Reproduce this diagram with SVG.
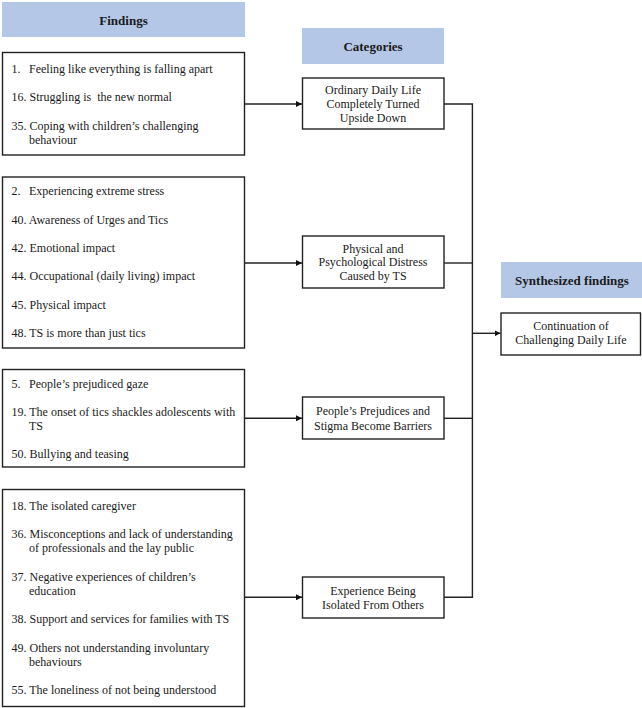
<svg xmlns="http://www.w3.org/2000/svg" width="642" height="708" viewBox="0 0 642 708">
<defs>
<style>
.hdr{fill:#b4c7e7}
.box{fill:#fff;stroke:#222;stroke-width:1.4}
.ln{fill:none;stroke:#222;stroke-width:1.4}
</style>
<marker id="arr" viewBox="0 0 10 10" refX="10" refY="5" markerWidth="6" markerHeight="6" markerUnits="userSpaceOnUse" orient="auto">
<path d="M0,0 L10,5 L0,10 Z" fill="#111"/>
</marker>
</defs>
<rect width="642" height="708" fill="#fff"/>

<g id="header-findings">
<rect class="hdr" x="2" y="2" width="243" height="35"/>
<text style="font-family:'Liberation Serif',serif;font-size:13px;font-weight:bold;text-anchor:middle" fill="#1a1a1a" x="123.5" y="25">Findings</text>
</g>
<g id="header-categories">
<rect class="hdr" x="302" y="28" width="142" height="36"/>
<text style="font-family:'Liberation Serif',serif;font-size:13px;font-weight:bold;text-anchor:middle" fill="#1a1a1a" x="373" y="51">Categories</text>
</g>
<g id="header-synth">
<rect class="hdr" x="501" y="262" width="141" height="36"/>
<text style="font-family:'Liberation Serif',serif;font-size:13px;font-weight:bold;text-anchor:middle" fill="#1a1a1a" x="572" y="284.5">Synthesized findings</text>
</g>

<g id="findings-1">
<rect class="box" x="2.5" y="52.5" width="242" height="102.5"/>
<text style="font-family:'Liberation Serif',serif;font-size:12px" fill="#1a1a1a" x="11.5" y="73">1.</text>
<text style="font-family:'Liberation Serif',serif;font-size:12px" fill="#1a1a1a" x="29" y="73">Feeling like everything is falling apart</text>
<text style="font-family:'Liberation Serif',serif;font-size:12px;white-space:pre" fill="#1a1a1a" x="11.5" y="101">16. Struggling is  the new normal</text>
<text style="font-family:'Liberation Serif',serif;font-size:12px" fill="#1a1a1a" x="11.5" y="129.5">35. Coping with children’s challenging</text>
<text style="font-family:'Liberation Serif',serif;font-size:12px" fill="#1a1a1a" x="29" y="143.5">behaviour</text>
</g>

<g id="findings-2">
<rect class="box" x="2.5" y="177" width="242" height="171"/>
<text style="font-family:'Liberation Serif',serif;font-size:12px" fill="#1a1a1a" x="11.5" y="195.2">2.</text>
<text style="font-family:'Liberation Serif',serif;font-size:12px" fill="#1a1a1a" x="29" y="195.2">Experiencing extreme stress</text>
<text style="font-family:'Liberation Serif',serif;font-size:12px" fill="#1a1a1a" x="11.5" y="223.5">40. Awareness of Urges and Tics</text>
<text style="font-family:'Liberation Serif',serif;font-size:12px" fill="#1a1a1a" x="11.5" y="251.8">42. Emotional impact</text>
<text style="font-family:'Liberation Serif',serif;font-size:12px" fill="#1a1a1a" x="11.5" y="280.2">44. Occupational (daily living) impact</text>
<text style="font-family:'Liberation Serif',serif;font-size:12px" fill="#1a1a1a" x="11.5" y="308.5">45. Physical impact</text>
<text style="font-family:'Liberation Serif',serif;font-size:12px" fill="#1a1a1a" x="11.5" y="336.8">48. TS is more than just tics</text>
</g>

<g id="findings-3">
<rect class="box" x="2.5" y="369.5" width="242" height="97.5"/>
<text style="font-family:'Liberation Serif',serif;font-size:12px" fill="#1a1a1a" x="11.5" y="387.5">5.</text>
<text style="font-family:'Liberation Serif',serif;font-size:12px" fill="#1a1a1a" x="29" y="387.5">People’s prejudiced gaze</text>
<text style="font-family:'Liberation Serif',serif;font-size:12px" fill="#1a1a1a" x="11.5" y="415.5">19. The onset of tics shackles adolescents with</text>
<text style="font-family:'Liberation Serif',serif;font-size:12px" fill="#1a1a1a" x="29" y="429.5">TS</text>
<text style="font-family:'Liberation Serif',serif;font-size:12px" fill="#1a1a1a" x="11.5" y="457.5">50. Bullying and teasing</text>
</g>

<g id="findings-4">
<rect class="box" x="2.5" y="489.5" width="242" height="217"/>
<text style="font-family:'Liberation Serif',serif;font-size:12px" fill="#1a1a1a" x="11.5" y="509.5">18. The isolated caregiver</text>
<text style="font-family:'Liberation Serif',serif;font-size:12px" fill="#1a1a1a" x="11.5" y="537.5">36. Misconceptions and lack of understanding</text>
<text style="font-family:'Liberation Serif',serif;font-size:12px" fill="#1a1a1a" x="29" y="551.5">of professionals and the lay public</text>
<text style="font-family:'Liberation Serif',serif;font-size:12px" fill="#1a1a1a" x="11.5" y="580.5">37. Negative experiences of children’s</text>
<text style="font-family:'Liberation Serif',serif;font-size:12px" fill="#1a1a1a" x="29" y="594.5">education</text>
<text style="font-family:'Liberation Serif',serif;font-size:12px" fill="#1a1a1a" x="11.5" y="622.5">38. Support and services for families with TS</text>
<text style="font-family:'Liberation Serif',serif;font-size:12px" fill="#1a1a1a" x="11.5" y="651.5">49. Others not understanding involuntary</text>
<text style="font-family:'Liberation Serif',serif;font-size:12px" fill="#1a1a1a" x="29" y="665.5">behaviours</text>
<text style="font-family:'Liberation Serif',serif;font-size:12px" fill="#1a1a1a" x="11.5" y="693.5">55. The loneliness of not being understood</text>
</g>

<g id="category-1">
<rect class="box" x="302.5" y="78" width="141.5" height="51"/>
<text style="font-family:'Liberation Serif',serif;font-size:12px;text-anchor:middle" fill="#1a1a1a" x="373" y="93.5">Ordinary Daily Life</text>
<text style="font-family:'Liberation Serif',serif;font-size:12px;text-anchor:middle" fill="#1a1a1a" x="373" y="107.5">Completely Turned</text>
<text style="font-family:'Liberation Serif',serif;font-size:12px;text-anchor:middle" fill="#1a1a1a" x="373" y="121.8">Upside Down</text>
</g>
<g id="category-2">
<rect class="box" x="302.5" y="236" width="141.5" height="52"/>
<text style="font-family:'Liberation Serif',serif;font-size:12px;text-anchor:middle" fill="#1a1a1a" x="373" y="252.5">Physical and</text>
<text style="font-family:'Liberation Serif',serif;font-size:12px;text-anchor:middle" fill="#1a1a1a" x="373" y="266.2">Psychological Distress</text>
<text style="font-family:'Liberation Serif',serif;font-size:12px;text-anchor:middle" fill="#1a1a1a" x="373" y="280.2">Caused by TS</text>
</g>
<g id="category-3">
<rect class="box" x="302.5" y="397" width="141.5" height="42"/>
<text style="font-family:'Liberation Serif',serif;font-size:12px;text-anchor:middle" fill="#1a1a1a" x="373" y="415.2">People’s Prejudices and</text>
<text style="font-family:'Liberation Serif',serif;font-size:12px;text-anchor:middle" fill="#1a1a1a" x="373" y="429.5">Stigma Become Barriers</text>
</g>
<g id="category-4">
<rect class="box" x="302.5" y="577" width="141.5" height="41"/>
<text style="font-family:'Liberation Serif',serif;font-size:12px;text-anchor:middle" fill="#1a1a1a" x="373" y="594.5">Experience Being</text>
<text style="font-family:'Liberation Serif',serif;font-size:12px;text-anchor:middle" fill="#1a1a1a" x="373" y="608.8">Isolated From Others</text>
</g>

<g id="synthesized">
<rect class="box" x="501" y="313" width="139.5" height="42"/>
<text style="font-family:'Liberation Serif',serif;font-size:12px;text-anchor:middle" fill="#1a1a1a" x="571" y="330.2">Continuation of</text>
<text style="font-family:'Liberation Serif',serif;font-size:12px;text-anchor:middle" fill="#1a1a1a" x="571" y="344.2">Challenging Daily Life</text>
</g>

<g id="connectors">
<line class="ln" x1="244.5" y1="104" x2="302" y2="104" marker-end="url(#arr)"/>
<line class="ln" x1="244.5" y1="263" x2="302" y2="263" marker-end="url(#arr)"/>
<line class="ln" x1="244.5" y1="418.3" x2="302" y2="418.3" marker-end="url(#arr)"/>
<line class="ln" x1="244.5" y1="597.3" x2="302" y2="597.3" marker-end="url(#arr)"/>
<polyline class="ln" points="444,104 472.4,104 472.4,597.3 444,597.3"/>
<line class="ln" x1="444" y1="263" x2="472.4" y2="263"/>
<line class="ln" x1="444" y1="418.3" x2="472.4" y2="418.3"/>
<line class="ln" x1="472.4" y1="333.3" x2="500.5" y2="333.3" marker-end="url(#arr)"/>
</g>
</svg>
